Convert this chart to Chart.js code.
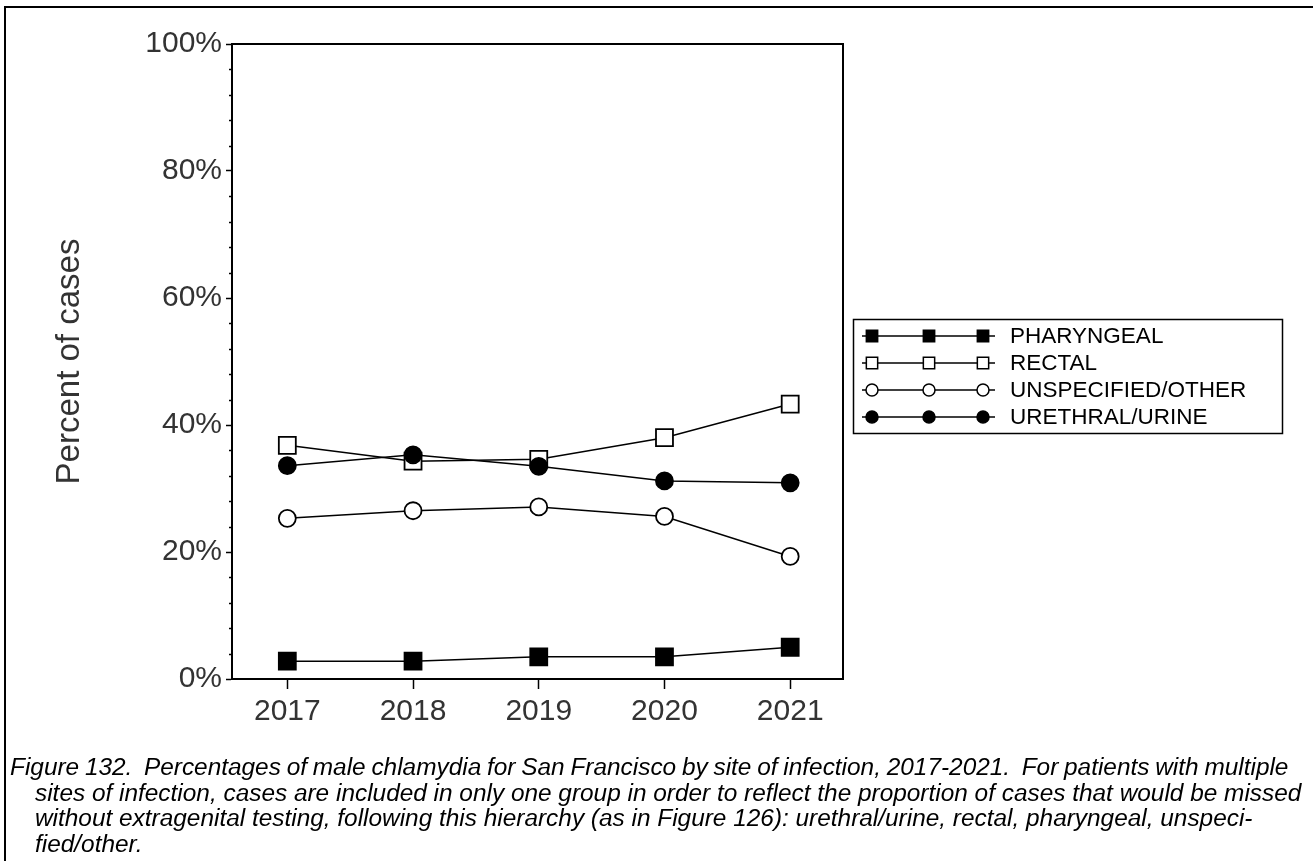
<!DOCTYPE html>
<html>
<head>
<meta charset="utf-8">
<script src="https://cdn.jsdelivr.net/npm/chart.js@4.4.1/dist/chart.umd.min.js"></script>
<style>
  html, body { margin: 0; padding: 0; background: #fff; }
  #wrap { position: relative; width: 1313px; height: 861px; overflow: hidden; }
  #frame { position: absolute; left: 4px; top: 6px; right: 0; bottom: 0; border-top: 2px solid #000; border-left: 2px solid #000; }
  #chart { position: absolute; left: 0; top: 0; }
  #caption { position: absolute; left: 10px; top: 754px; font: italic 24.4px "Liberation Sans", Arial, sans-serif; line-height: 25.5px; color: #000; white-space: nowrap; }
  #caption div.first { word-spacing: -1px; }
  #caption div.ind { padding-left: 25px; }
</style>
</head>
<body>
<div id="wrap">
  <div id="frame"></div>
  <canvas id="chart" width="1313" height="861"></canvas>
  <div id="caption">
    <div class="first">Figure 132.&nbsp; Percentages of male chlamydia for San Francisco by site of infection, 2017-2021.&nbsp; For patients with multiple</div>
    <div class="ind">sites of infection, cases are included in only one group in order to reflect the proportion of cases that would be missed</div>
    <div class="ind">without extragenital testing, following this hierarchy (as in Figure 126): urethral/urine, rectal, pharyngeal, unspeci-</div>
    <div class="ind">fied/other.</div>
  </div>
</div>
<script>
const years = [2017, 2018, 2019, 2020, 2021];
const pharyngeal = [2.8, 2.8, 3.5, 3.5, 5.0];
const rectal = [36.8, 34.3, 34.6, 38.0, 43.3];
const unspecified = [25.3, 26.5, 27.1, 25.6, 19.3];
const urethral = [33.6, 35.3, 33.5, 31.2, 30.9];
const yTicks = [0, 20, 40, 60, 80, 100];

const font = '"Liberation Sans", Arial, sans-serif';

function pts(values) {
    return years.map((y, i) => ({ x: y, y: values[i] }));
}

const datasets = [
    { label: 'PHARYNGEAL', data: pts(pharyngeal), pointStyle: 'rect', pointRadius: 12, backgroundColor: '#000', order: 3 },
    { label: 'RECTAL', data: pts(rectal), pointStyle: 'rect', pointRadius: 12, backgroundColor: '#fff', order: 2 },
    { label: 'UNSPECIFIED/OTHER', data: pts(unspecified), pointStyle: 'circle', pointRadius: 8.5, backgroundColor: '#fff', order: 1 },
    { label: 'URETHRAL/URINE', data: pts(urethral), pointStyle: 'circle', pointRadius: 8.5, backgroundColor: '#000', order: 0 }
].map(d => Object.assign({
    borderColor: '#000',
    borderWidth: 1.5,
    pointBorderColor: '#000',
    pointBackgroundColor: d.backgroundColor,
    pointBorderWidth: 1.8,
    pointHoverRadius: d.pointRadius,
    tension: 0
}, d));

// frame, minor ticks and the three-marker legend
const extras = {
    id: 'extras',
    afterDraw(chart) {
        const ctx = chart.ctx;
        const a = chart.chartArea;
        const y = chart.scales.y;
        ctx.save();
        ctx.strokeStyle = '#000';
        ctx.lineWidth = 2;
        ctx.beginPath();
        ctx.moveTo(a.left, a.top);
        ctx.lineTo(a.right, a.top);
        ctx.lineTo(a.right, a.bottom);
        ctx.stroke();

        ctx.lineWidth = 1.5;
        for (let v = 4; v < 100; v += 4) {
            if (v % 20 === 0) continue;
            const py = Math.round(y.getPixelForValue(v)) + 0.5;
            ctx.beginPath();
            ctx.moveTo(a.left - 3, py);
            ctx.lineTo(a.left, py);
            ctx.stroke();
        }

        // legend
        const lx = 853, ly = 319, lw = 429, lh = 114;
        ctx.lineWidth = 1.5;
        ctx.strokeRect(lx + 0.5, ly + 0.5, lw, lh);
        ctx.font = '22.5px ' + font;
        ctx.fillStyle = '#000';
        ctx.textBaseline = 'middle';
        const marks = [872, 929, 983];
        chart.data.datasets.forEach((ds, i) => {
            const ry = ly + 17 + i * 27;
            ctx.lineWidth = 1.5;
            ctx.strokeStyle = '#000';
            ctx.beginPath();
            ctx.moveTo(862, ry);
            ctx.lineTo(995, ry);
            ctx.stroke();
            const r = ds.pointStyle === 'rect' ? 8 : 6;
            marks.forEach(mx => {
                ctx.fillStyle = ds.pointBackgroundColor;
                ctx.lineWidth = 1.5;
                Chart.helpers.drawPoint(ctx, { pointStyle: ds.pointStyle, radius: r, borderWidth: 1.5, rotation: 0 }, mx, ry);
            });
            ctx.fillStyle = '#000';
            ctx.fillText(ds.label, 1010, ry + 1);
        });
        ctx.restore();
    }
};

new Chart(document.getElementById('chart').getContext('2d'), {
    type: 'line',
    data: { datasets: datasets },
    options: {
        responsive: false,
        animation: false,
        events: [],
        layout: { padding: { top: 44, right: 470, bottom: 0, left: 0 } },
        plugins: { legend: { display: false }, tooltip: { enabled: false } },
        scales: {
            x: {
                type: 'linear',
                min: 2016.56,
                max: 2021.42,
                afterFit(scale) { scale.height = 182; },
                afterBuildTicks(scale) { scale.ticks = years.map(v => ({ value: v })); },
                grid: { drawOnChartArea: false, tickLength: 10, tickColor: '#000', tickWidth: 1.5 },
                border: { display: true, color: '#000', width: 2 },
                ticks: {
                    color: '#333',
                    font: { family: font, size: 30 },
                    padding: 5,
                    maxRotation: 0,
                    callback: v => String(v)
                }
            },
            y: {
                min: 0,
                max: 100,
                afterFit(scale) { scale.width = 232; },
                afterBuildTicks(scale) { scale.ticks = yTicks.map(v => ({ value: v })); },
                grid: { drawOnChartArea: false, tickLength: 6, tickColor: '#000', tickWidth: 1.5 },
                border: { display: true, color: '#000', width: 2 },
                ticks: {
                    color: '#333',
                    font: { family: font, size: 30 },
                    padding: 4,
                    callback: v => v + '%'
                },
                title: {
                    display: true,
                    text: 'Percent of cases',
                    color: '#333',
                    font: { family: font, size: 33 },
                    padding: { top: 50, bottom: 0 }
                }
            }
        }
    },
    plugins: [extras]
});
</script>
</body>
</html>
